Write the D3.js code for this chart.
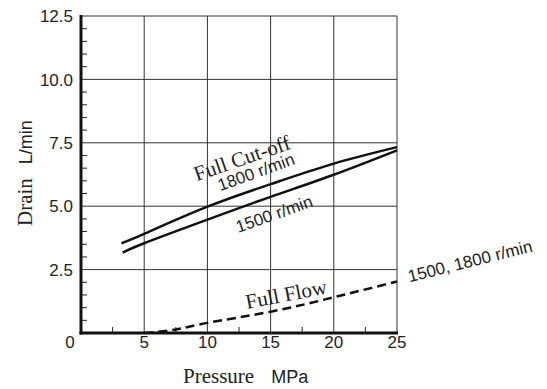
<!DOCTYPE html>
<html>
<head>
<meta charset="utf-8">
<script src="https://cdn.jsdelivr.net/npm/d3@7"></script>
<style>
  body { margin: 0; background: #fff; }
  svg { display: block; }
  .sans { font-family: "Liberation Sans", Arial, sans-serif; }
  .serif { font-family: "Liberation Serif", "Times New Roman", serif; }
</style>
</head>
<body>
<svg id="chart" width="547" height="389"></svg>
<script>
// values
const xTicks = [0, 5, 10, 15, 20, 25]
const yTicks = [2.5, 5.0, 7.5, 10.0, 12.5]

const cutoff1800P = [3.2, 5, 10, 15, 20, 25]
const cutoff1800Q = [3.54, 3.91, 4.98, 5.87, 6.68, 7.33]
const cutoff1500P = [3.3, 5, 10, 15, 20, 25]
const cutoff1500Q = [3.17, 3.54, 4.47, 5.37, 6.24, 7.2]
const fullFlowP = [5, 7.5, 10, 15, 20, 25]
const fullFlowQ = [0, 0.14, 0.4, 0.84, 1.41, 2.03]

const svg = d3.select("#chart")
const x = d3.scaleLinear().domain([0, 25]).range([81, 397])
const y = d3.scaleLinear().domain([0, 12.5]).range([333, 16])

// grid
const grid = svg.append("g").attr("stroke", "#333").attr("stroke-width", 1)
grid.selectAll(".vg").data(xTicks.filter(d => d > 0)).enter().append("line")
  .attr("x1", d => x(d)).attr("x2", d => x(d)).attr("y1", y(0)).attr("y2", y(12.5))
grid.selectAll(".hg").data(yTicks).enter().append("line")
  .attr("x1", x(0)).attr("x2", x(25)).attr("y1", d => y(d)).attr("y2", d => y(d))

// minor ticks
const yMinor = d3.range(1, 25).map(d => d * 0.5).filter(d => d % 2.5 !== 0)
svg.append("g").selectAll("line").data(yMinor).enter().append("line")
  .attr("x1", x(0)).attr("x2", x(0) + 6).attr("y1", d => y(d)).attr("y2", d => y(d))
  .attr("stroke", "#222").attr("stroke-width", 1)
const xMinor = [2.5, 7.5, 12.5, 17.5, 22.5]
svg.append("g").selectAll("line").data(xMinor).enter().append("line")
  .attr("x1", d => x(d)).attr("x2", d => x(d)).attr("y1", y(0)).attr("y2", y(0) - 6)
  .attr("stroke", "#222").attr("stroke-width", 1)

// main axes
svg.append("line").attr("x1", x(0)).attr("x2", x(0)).attr("y1", y(12.5) - 1).attr("y2", y(0) + 1.5)
  .attr("stroke", "#111").attr("stroke-width", 3)
svg.append("line").attr("x1", x(0) - 1.5).attr("x2", x(25) + 1).attr("y1", y(0)).attr("y2", y(0))
  .attr("stroke", "#111").attr("stroke-width", 3)

// tick labels
svg.append("g").selectAll("text").data(yTicks).enter().append("text")
  .attr("class", "sans").attr("font-size", 17).attr("fill", "#222")
  .attr("x", 73).attr("y", d => y(d)).attr("dy", "0.36em").attr("text-anchor", "end")
  .text(d => d.toFixed(1))
svg.append("g").selectAll("text").data(xTicks).enter().append("text")
  .attr("class", "sans").attr("font-size", 17).attr("fill", "#222")
  .attr("x", d => d === 0 ? x(d) - 11 : x(d)).attr("y", 348).attr("text-anchor", "middle")
  .text(d => d)

// curves
const line = d3.line().x(d => x(d[0])).y(d => y(d[1])).curve(d3.curveNatural)
const curve = (ps, qs) => ps.map((p, i) => [p, qs[i]])
svg.append("path").attr("d", line(curve(cutoff1800P, cutoff1800Q)))
  .attr("fill", "none").attr("stroke", "#111").attr("stroke-width", 2.5)
svg.append("path").attr("d", line(curve(cutoff1500P, cutoff1500Q)))
  .attr("fill", "none").attr("stroke", "#111").attr("stroke-width", 2.5)
svg.append("path").attr("d", line(curve(fullFlowP, fullFlowQ)))
  .attr("fill", "none").attr("stroke", "#111").attr("stroke-width", 2.5)
  .attr("stroke-dasharray", "9,5")

// curve labels
function label(txt, cx, cy, angle, cls, size) {
  svg.append("text").attr("class", cls).attr("font-size", size).attr("fill", "#222")
    .attr("text-anchor", "middle").attr("dy", "0.35em")
    .attr("transform", "translate(" + cx + "," + cy + ") rotate(" + angle + ")")
    .text(txt)
}
label("Full Cut-off", 242, 158, -19, "serif", 21)
label("1800 r/min", 256, 172, -20, "sans", 17)
label("1500 r/min", 274, 214, -19.5, "sans", 17)
label("Full Flow", 286, 294, -11, "serif", 21)
label("1500, 1800 r/min", 470, 261, -14, "sans", 17)

// axis titles
const xt = svg.append("text").attr("x", 183).attr("y", 383).attr("fill", "#222")
xt.append("tspan").attr("class", "serif").attr("font-size", 21).text("Pressure")
xt.append("tspan").attr("class", "sans").attr("font-size", 18).attr("dx", 17).text("MPa")

const yt = svg.append("text").attr("transform", "translate(32,226) rotate(-90)").attr("fill", "#222")
yt.append("tspan").attr("class", "serif").attr("font-size", 21).text("Drain")
yt.append("tspan").attr("class", "sans").attr("font-size", 18).attr("dx", 14).text("L/min")
</script>
</body>
</html>
